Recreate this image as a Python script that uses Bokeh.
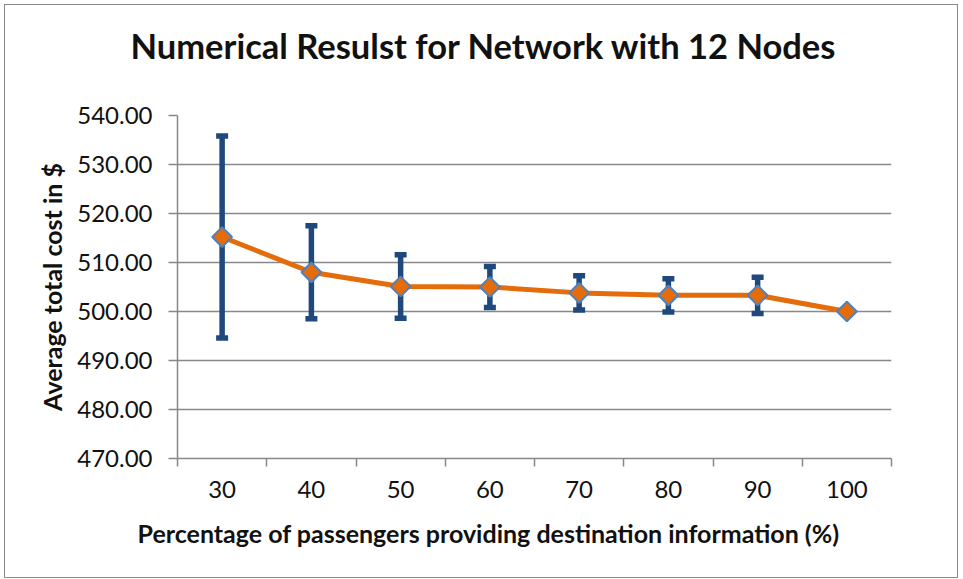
from bokeh.plotting import figure
from bokeh.models import Range1d, FixedTicker, Whisker, TeeHead, ColumnDataSource, Title
from bokeh.embed import file_html
from bokeh.resources import INLINE
import math

title_text = "Numerical Resulst for Network with 12 Nodes"
x_label = "Percentage of passengers providing destination information (%)"
y_label = "Average total cost in $"

categories = ["30", "40", "50", "60", "70", "80", "90", "100"]
avg_cost = [515.2, 508.0, 505.1, 505.0, 503.8, 503.3, 503.3, 500.0]
err = [20.6, 9.5, 6.5, 4.2, 3.5, 3.4, 3.7, 0.0]
y_ticks = [470, 480, 490, 500, 510, 520, 530, 540]

FONT = "Lato"
GRAY = "#888888"
xs = [i + 0.5 for i in range(len(categories))]
src = ColumnDataSource(dict(
    x=xs, y=avg_cost,
    upper=[v + e for v, e in zip(avg_cost, err)],
    lower=[v - e for v, e in zip(avg_cost, err)],
))

p = figure(width=952, height=572, output_backend="svg", toolbar_location=None,
           x_range=Range1d(0, len(categories)), y_range=Range1d(470, 540),
           min_border_left=172, min_border_right=66, min_border_top=110, min_border_bottom=119)
p.styles = {"margin-left": "5px", "margin-top": "5px", "outline": "1px solid #8a8a8a"}
p.outline_line_color = None
p.background_fill_color = "white"
p.border_fill_color = "white"

p.title.text = title_text
p.title.align = "left"
p.title.text_font = FONT
p.title.text_font_size = "34.5px"
p.title.text_font_style = "bold"
p.title.text_color = "#111111"
p.title.standoff = 32
p.title.offset = -47

# spacer between the title and the plot area
spacer = Title(text=" ", text_font=FONT, text_font_size="10px", standoff=20)
p.add_layout(spacer, "above")

# x axis: labels at category centers, tick marks at boundaries
p.xaxis.ticker = FixedTicker(ticks=xs, minor_ticks=list(range(len(categories) + 1)))
p.xaxis.major_label_overrides = {x: c for x, c in zip(xs, categories)}
p.xaxis.major_tick_line_color = None
p.xaxis.minor_tick_line_color = GRAY
p.xaxis.minor_tick_line_width = 1.5
p.xaxis.minor_tick_in = 0
p.xaxis.minor_tick_out = 8
p.xaxis.axis_line_color = GRAY
p.xaxis.axis_line_width = 1.5
p.xaxis.major_label_text_font = FONT
p.xaxis.major_label_text_font_size = "24px"
p.xaxis.major_label_text_color = "#111111"
p.xaxis.major_label_standoff = 14

xlab = Title(text=x_label, align="left", offset=-40, standoff=30,
             text_font=FONT, text_font_size="25px", text_font_style="bold",
             text_color="#111111")
p.add_layout(xlab, "below")

p.yaxis.ticker = FixedTicker(ticks=y_ticks)
p.yaxis.major_label_overrides = {t: f"{t:.2f}" for t in y_ticks}
p.yaxis.minor_tick_line_color = None
p.yaxis.major_tick_line_color = GRAY
p.yaxis.major_tick_line_width = 1.5
p.yaxis.major_tick_in = 0
p.yaxis.major_tick_out = 9
p.yaxis.axis_line_color = GRAY
p.yaxis.axis_line_width = 1.5
p.yaxis.major_label_text_font = FONT
p.yaxis.major_label_text_font_size = "24px"
p.yaxis.major_label_text_color = "#111111"
p.yaxis.major_label_standoff = 16
p.yaxis.axis_label = y_label
p.yaxis.axis_label_text_font = FONT
p.yaxis.axis_label_text_font_size = "25px"
p.yaxis.axis_label_text_font_style = "bold"
p.yaxis.axis_label_text_color = "#111111"
p.yaxis.axis_label_standoff = 7

p.xgrid.grid_line_color = None
p.ygrid.ticker = FixedTicker(ticks=y_ticks)
p.ygrid.grid_line_color = GRAY
p.ygrid.grid_line_width = 1.5

w = Whisker(source=src, base="x", upper="upper", lower="lower",
            line_color="#1f497d", line_width=5.5, level="underlay",
            upper_head=TeeHead(size=12, line_color="#1f497d", line_width=5.5),
            lower_head=TeeHead(size=12, line_color="#1f497d", line_width=5.5))
p.add_layout(w)

p.line("x", "y", source=src, line_color="#e46c0a", line_width=5)
p.scatter("x", "y", source=src, marker="square", size=14, angle=math.pi / 4,
          fill_color="#e46c0a", line_color="#4f81bd", line_width=2)

open("out.html", "w").write(file_html(p, INLINE))
